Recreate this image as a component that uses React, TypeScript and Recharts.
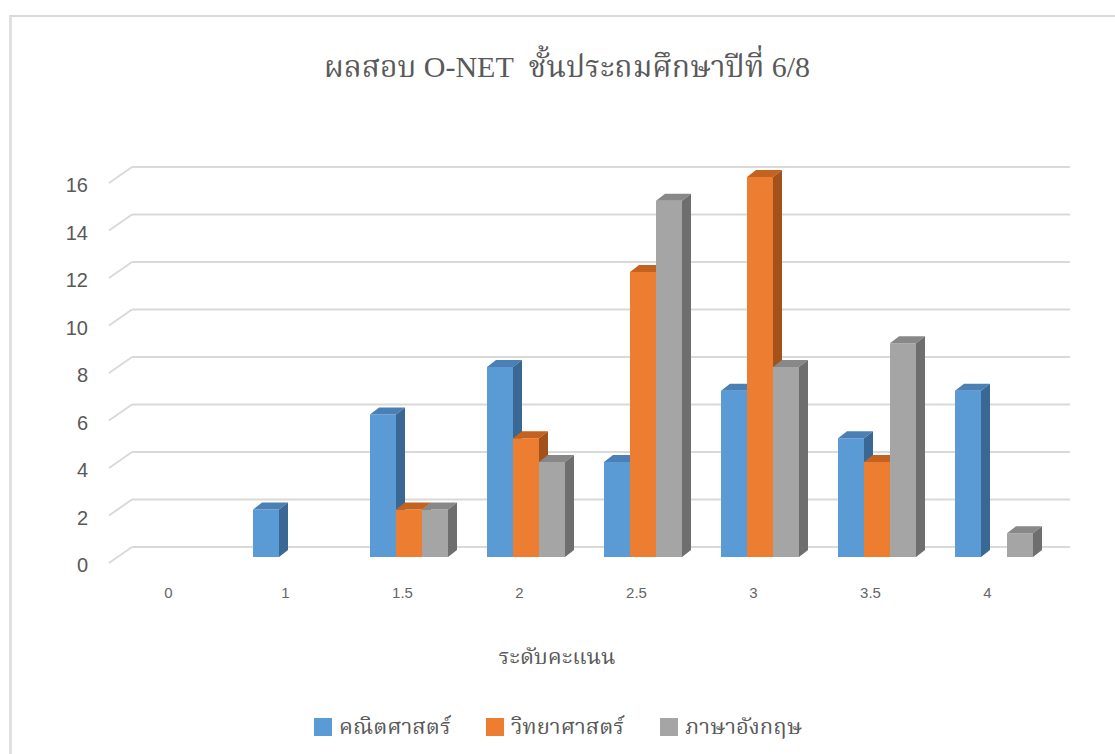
import React from "react";
import { BarChart, Bar, XAxis, YAxis, CartesianGrid } from "recharts";

const categories = ["0", "1", "1.5", "2", "2.5", "3", "3.5", "4"];
const mathScores = [0, 2, 6, 8, 4, 7, 5, 7];
const scienceScores = [0, 0, 2, 5, 12, 16, 4, 0];
const englishScores = [0, 0, 2, 4, 15, 8, 9, 1];
const yTicks = [0, 2, 4, 6, 8, 10, 12, 14, 16];

const series = [
  { key: "math", name: "คณิตศาสตร์", front: "#5B9BD5", top: "#4B80B6", side: "#3A6894" },
  { key: "science", name: "วิทยาศาสตร์", front: "#ED7D31", top: "#C4621F", side: "#A3521B" },
  { key: "english", name: "ภาษาอังกฤษ", front: "#A5A5A5", top: "#888888", side: "#6E6E6E" },
];

const data = categories.map((c, i) => ({
  score: c,
  math: mathScores[i],
  science: scienceScores[i],
  english: englishScores[i],
}));

const DX = 9;
const DY = 7;
const textColor = "#595959";
const thaiSerif = '"Liberation Serif", "DejaVu Serif", "Noto Serif Thai", serif';

// column with a small side and top face, like the 3D columns of the original
const Column3D = (props: any) => {
  const { x, y, width, height, front, top, side } = props;
  if (!height || height <= 0) return <g />;
  const r = x + width;
  return (
    <g>
      <rect x={x} y={y} width={width} height={height} fill={front} />
      <polygon
        points={`${x},${y} ${x + DX},${y - DY} ${r + DX},${y - DY} ${r},${y}`}
        fill={top}
      />
      <polygon
        points={`${r},${y} ${r + DX},${y - DY} ${r + DX},${y + height - DY} ${r},${y + height}`}
        fill={side}
      />
    </g>
  );
};

// back wall gridline plus the short floor diagonal on the left
const GridLine = (props: any) => {
  const { x1, x2, y1, index } = props;
  return (
    <g key={`g-${index}`}>
      <line x1={x1 - 7.5} y1={y1 + 6} x2={x1 + 15.5} y2={y1 - 10} stroke="#d9d9d9" strokeWidth={2} />
      <line x1={x1 + 15.5} y1={y1 - 10} x2={x2 + 17.5} y2={y1 - 10} stroke="#d9d9d9" strokeWidth={2} />
    </g>
  );
};

const YTick = ({ x, y, payload }: any) => (
  <text x={x} y={y + 8} textAnchor="end" dominantBaseline="central" fill={textColor}
    fontSize={20} fontFamily='"Liberation Sans", Arial, sans-serif'>
    {payload.value}
  </text>
);

const XTick = ({ x, y, payload }: any) => (
  <text x={x - 6.5} y={y + 27} textAnchor="middle" dominantBaseline="central" fill="#666"
    fontSize={15} fontFamily='"Liberation Sans", Arial, sans-serif'>
    {payload.value}
  </text>
);

export default function App() {
  return (
    <div style={{ position: "absolute", left: 0, top: 0, width: 1115, height: 754, background: "#fff", overflow: "hidden" }}>
      <div style={{ position: "absolute", left: 9, top: 15, width: 1200, height: 800, borderTop: "2px solid #d9d9d9", borderLeft: "3px solid #e0e0e0" }} />
      <div style={{ position: "absolute", left: 0, top: 47, width: 1134, textAlign: "center", fontFamily: thaiSerif, fontSize: 30, lineHeight: "40px", color: textColor, whiteSpace: "pre" }}>
        <span style={{ fontFamily: '"Liberation Serif", serif' }}>{""}</span>
        {"ผลสอบ "}
        <span style={{ fontFamily: '"Liberation Serif", "DejaVu Serif", serif' }}>{"O-NET"}</span>
        {"  ชั้นประถมศึกษาปีที่ "}
        <span style={{ fontFamily: '"Liberation Serif", "DejaVu Serif", serif' }}>{"6/8"}</span>
      </div>
      <div style={{ position: "absolute", left: 0, top: 641, width: 1114, textAlign: "center", fontFamily: thaiSerif, fontSize: 22, lineHeight: "32px", color: textColor }}>
        ระดับคะแนน
      </div>
      <div style={{ position: "absolute", left: 0, top: 0 }}>
        <BarChart
          width={1115}
          height={754}
          data={data}
          margin={{ top: 177, right: 62.5, bottom: 137, left: 56.5 }}
          barCategoryGap={19.5}
          barGap={0}
        >
          <CartesianGrid vertical={false} horizontal={(p: any) => <GridLine {...p} />} />
          <XAxis dataKey="score" height={60} axisLine={false} tickLine={false} tick={<XTick />} interval={0} />
          <YAxis width={60} domain={[0, 16]} ticks={yTicks} axisLine={false} tickLine={false}
            tickSize={0} tickMargin={28.5} tick={<YTick />} />
          {series.map((s) => (
            <Bar key={s.key} dataKey={s.key} name={s.name} fill={s.front} isAnimationActive={false}
              shape={(p: any) => <Column3D {...p} front={s.front} top={s.top} side={s.side} />} />
          ))}
        </BarChart>
      </div>
      {series.map((s, i) => {
        const sq = [314, 486, 660][i];
        return (
          <div key={s.key} style={{ position: "absolute", left: sq, top: 716, display: "flex", alignItems: "center" }}>
            <div style={{ width: 18, height: 18, background: s.front }} />
            <span style={{ marginLeft: 7, fontFamily: thaiSerif, fontSize: 22, lineHeight: "22px", color: textColor }}>{s.name}</span>
          </div>
        );
      })}
    </div>
  );
}
